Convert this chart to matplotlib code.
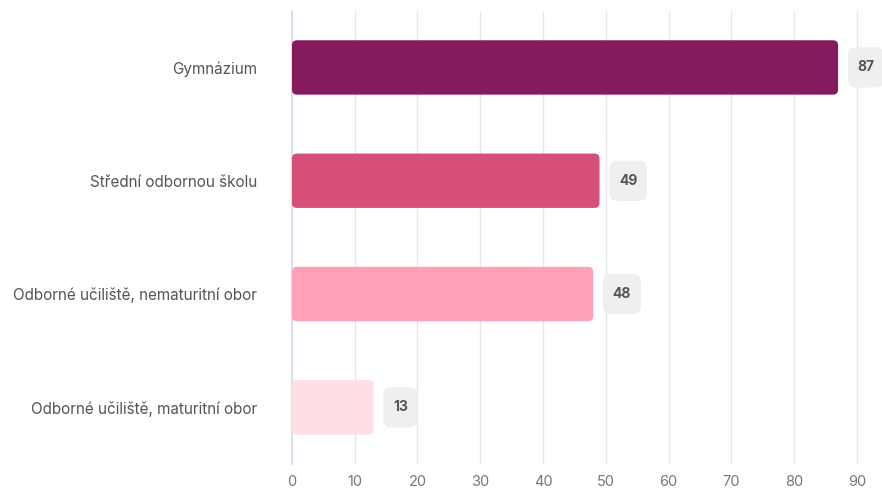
import matplotlib.pyplot as plt
from matplotlib.patches import FancyBboxPatch, BoxStyle

plt.rcParams['font.family'] = ['Inter', 'DejaVu Sans']

categories = ['Gymnázium', 'Střední odbornou školu',
              'Odborné učiliště, nematuritní obor', 'Odborné učiliště, maturitní obor']
values = [87, 49, 48, 13]
colors = ['#861a5e', '#d64f78', '#ffa0b8', '#ffdfe5']
xticks = [0, 10, 20, 30, 40, 50, 60, 70, 80, 90]


class TallRound(BoxStyle.Round):
    """Rounded box with some extra vertical padding."""
    def __call__(self, x0, y0, width, height, mutation_size):
        extra = 0.25 * mutation_size
        return super().__call__(x0, y0 - extra, width, height + 2 * extra, mutation_size)


fig = plt.figure(figsize=(8.82, 4.91), dpi=100)
ax = fig.add_axes([0.331, 0.055, 0.669, 0.923])

bar_h = 0.48
for i, (v, c) in enumerate(zip(values, colors)):
    # rounded bar, corners scaled for the very different x/y data units
    box = FancyBboxPatch((0, i - bar_h / 2), v, bar_h,
                         boxstyle='round,pad=0,rounding_size=0.8',
                         mutation_aspect=0.055, facecolor=c, edgecolor='none', zorder=3)
    ax.add_patch(box)
    ax.annotate(str(v), xy=(v, i), xytext=(14, 0), textcoords='offset points',
                ha='left', va='center', fontsize=10, fontweight='bold', color='#555555',
                bbox=dict(boxstyle=TallRound(pad=0.7, rounding_size=0.6),
                          facecolor='#eef0ef', edgecolor='none'), zorder=4)

ax.set_xlim(0, 94)
ax.set_ylim(3.5, -0.5)
ax.set_yticks(range(len(categories)))
ax.set_yticklabels(categories, fontsize=11, color='#555555')
ax.set_xticks(xticks)
ax.tick_params(axis='x', length=0, labelsize=10.5, labelcolor='#777777', pad=8)
ax.tick_params(axis='y', length=0, pad=25)

ax.grid(axis='x', color='#e6e6ea', linewidth=1, zorder=0)
for s in ['top', 'right', 'bottom']:
    ax.spines[s].set_visible(False)
ax.spines['left'].set_color('#d8d8f0')
ax.spines['left'].set_linewidth(1.2)

fig.savefig('out.png', dpi=100)
